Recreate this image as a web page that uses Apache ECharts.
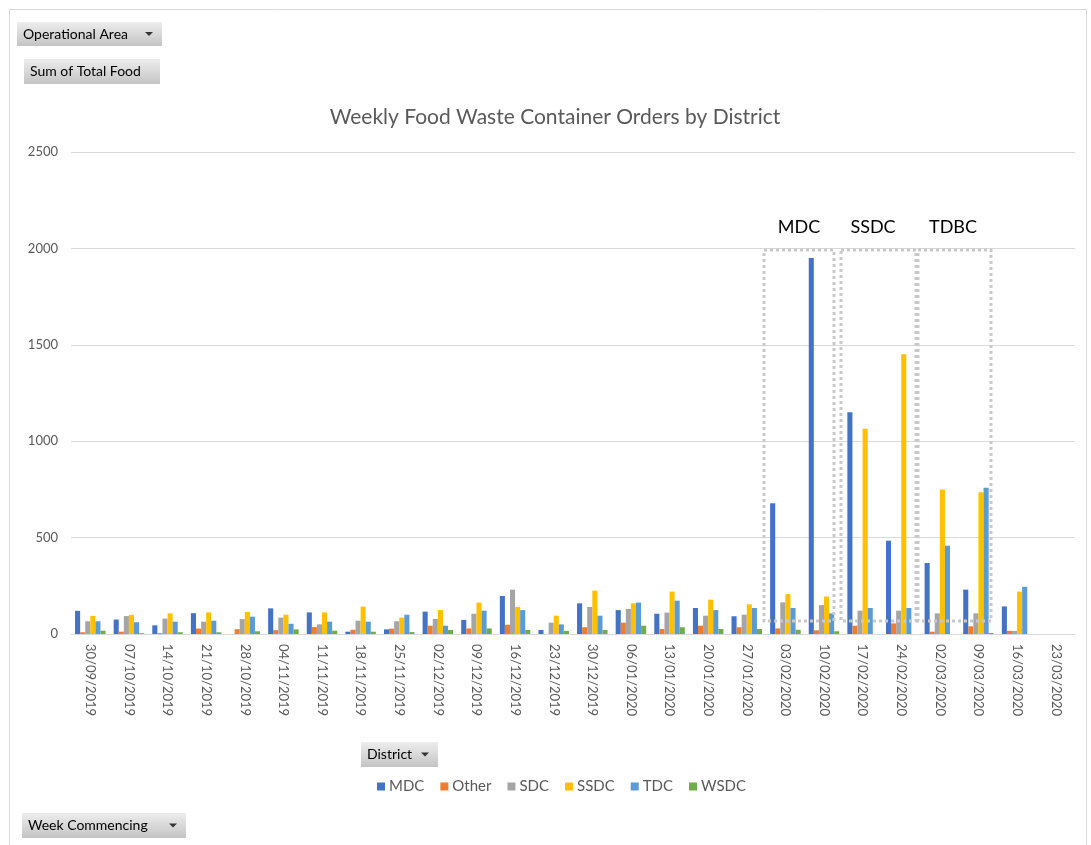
<!DOCTYPE html>
<html>
<head>
<meta charset="utf-8">
<script src="https://cdn.jsdelivr.net/npm/echarts@6/dist/echarts.min.js"></script>
<style>
  html, body { margin: 0; padding: 0; background: #fff; }
  #main { width: 1091px; height: 845px; }
</style>
</head>
<body>
<div id="main"></div>
<script>
// week commencing
var weeks = ['30/09/2019', '07/10/2019', '14/10/2019', '21/10/2019', '28/10/2019', '04/11/2019',
  '11/11/2019', '18/11/2019', '25/11/2019', '02/12/2019', '09/12/2019', '16/12/2019', '23/12/2019',
  '30/12/2019', '06/01/2020', '13/01/2020', '20/01/2020', '27/01/2020', '03/02/2020', '10/02/2020',
  '17/02/2020', '24/02/2020', '02/03/2020', '09/03/2020', '16/03/2020', '23/03/2020'];

var districts = ['MDC', 'Other', 'SDC', 'SSDC', 'TDC', 'WSDC'];
var colours = ['#4472C4', '#ED7D31', '#A5A5A5', '#FFC000', '#5B9BD5', '#70AD47'];

var mdc   = [120, 75, 45, 108, null, 133, 112, 12, 24, 116, 73, 197, 21, 159, 124, 105, 135, 92, 678, 1950, 1150, 484, 368, 230, 143, null];
var other = [9, 12, 5, 28, 25, 20, 36, 22, 28, 43, 29, 48, null, 35, 59, 26, 43, 35, 29, 19, 43, 55, 12, 40, 16, null];
var sdc   = [66, 93, 80, 64, 77, 85, 50, 69, 66, 78, 105, 230, 59, 140, 130, 111, 95, 100, 164, 150, 121, 121, 107, 107, 16, null];
var ssdc  = [94, 99, 107, 112, 114, 100, 112, 142, 85, 124, 163, 140, 95, 225, 159, 220, 178, 154, 207, 194, 1065, 1451, 749, 735, 220, null];
var tdc   = [66, 61, 64, 69, 90, 53, 64, 64, 100, 43, 121, 124, 50, 95, 163, 173, 124, 135, 135, 107, 135, 135, 458, 759, 245, null];
var wsdc  = [17, 4, 9, 9, 14, 24, 17, 12, 10, 21, 29, 21, 16, 21, 43, 35, 26, 26, 22, 14, null, null, null, 5, null, null];

var yTicks = { min: 0, max: 2500, step: 500 };

var allData = [mdc, other, sdc, ssdc, tdc, wsdc];
var font = 'Lato, "Open Sans", sans-serif';

// grey pivot field buttons
function pivotButton(x, y, w, h, label, arrow) {
  var kids = [
    {
      type: 'rect',
      shape: { x: 0, y: 0, width: w, height: h },
      style: {
        fill: new echarts.graphic.LinearGradient(0, 0, 0, 1, [
          { offset: 0, color: '#EDEDED' },
          { offset: 1, color: '#C4C4C4' }
        ])
      }
    },
    {
      type: 'text',
      x: 6, y: h / 2,
      style: { text: label, fill: '#000', font: '14px ' + font, verticalAlign: 'middle' }
    }
  ];
  if (arrow) {
    kids.push({
      type: 'polygon',
      shape: { points: [[w - 17, h / 2 - 2], [w - 9, h / 2 - 2], [w - 13, h / 2 + 2]] },
      style: { fill: '#333' }
    });
  }
  return { type: 'group', x: x, y: y, children: kids };
}

function dottedBox(x1, y1, x2, y2) {
  return {
    type: 'rect',
    shape: { x: x1, y: y1, width: x2 - x1, height: y2 - y1 },
    style: { fill: 'none', stroke: '#C9C9C9', lineWidth: 3, lineDash: [3, 3] },
    z: 10
  };
}

function boxLabel(x, y, t) {
  return {
    type: 'text', x: x, y: y, z: 10,
    style: { text: t, fill: '#000', font: '18px ' + font, align: 'center', verticalAlign: 'middle' }
  };
}

var series = districts.map(function (name, i) {
  return {
    name: name,
    type: 'bar',
    data: allData[i],
    barGap: '0%',
    barCategoryGap: '21%',
    itemStyle: { color: colours[i] }
  };
});

var chart = echarts.init(document.getElementById('main'), null, { renderer: 'canvas' });

var option = {
  backgroundColor: '#fff',
  animation: false,
  textStyle: { fontFamily: font },
  title: {
    text: 'Weekly Food Waste Container Orders by District',
    left: 550, top: 102, textAlign: 'center',
    textStyle: { color: '#595959', fontSize: 21, fontWeight: 'normal', fontFamily: font }
  },
  legend: {
    data: districts,
    left: 372, top: 774,
    itemWidth: 8, itemHeight: 8, itemGap: 16,
    icon: 'rect',
    textStyle: { color: '#595959', fontSize: 15, fontFamily: font, padding: [0, 0, 0, -1] }
  },
  grid: { left: 71, right: 16, top: 152, bottom: 211, containLabel: false },
  xAxis: {
    type: 'category',
    data: weeks,
    axisLine: { show: true, lineStyle: { color: '#D9D9D9', width: 1 } },
    axisTick: { show: false },
    axisLabel: {
      rotate: -90, interval: 0, color: '#595959', fontSize: 13, fontFamily: font, margin: 10
    }
  },
  yAxis: {
    type: 'value',
    min: yTicks.min, max: yTicks.max, interval: yTicks.step,
    axisLine: { show: false },
    axisTick: { show: false },
    splitLine: { lineStyle: { color: '#D9D9D9', width: 1 } },
    axisLabel: {
      color: '#595959', fontSize: 13, fontFamily: font, margin: 13,
      formatter: function (v) { return String(v); }
    }
  },
  series: series,
  graphic: [
    // outer chart border
    { type: 'polyline', shape: { points: [[9.5, 845], [9.5, 9.5], [1086.5, 9.5], [1086.5, 845]] },
      style: { stroke: '#D9D9D9', lineWidth: 1, fill: 'none' } },
    pivotButton(17, 22, 145, 24, 'Operational Area', true),
    pivotButton(24, 59, 136, 25, 'Sum of Total Food', false),
    pivotButton(361, 742, 77, 25, 'District', true),
    pivotButton(22, 813, 164, 25, 'Week Commencing', true),
    dottedBox(764, 250, 834, 621),
    dottedBox(841, 250, 916, 621),
    dottedBox(918, 250, 991, 621),
    boxLabel(799, 227, 'MDC'),
    boxLabel(873, 227, 'SSDC'),
    boxLabel(953, 227, 'TDBC')
  ]
};

chart.setOption(option);
</script>
</body>
</html>
